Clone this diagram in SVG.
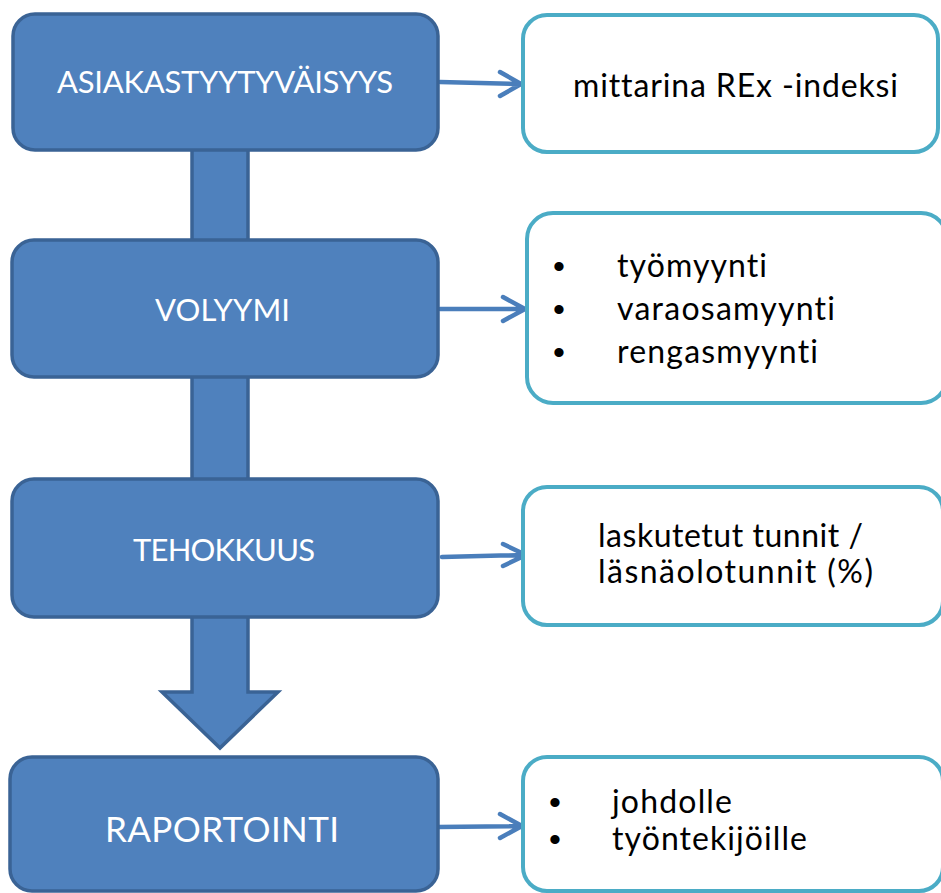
<svg xmlns="http://www.w3.org/2000/svg" width="941" height="893" viewBox="0 0 941 893">
<defs>
<style>
.main{fill:#4f81bd;stroke:#3a6395;stroke-width:3.5}
.side{fill:#ffffff;stroke:#4bacc6;stroke-width:4}
.wt{fill:#ffffff;font-family:Lato,"Liberation Sans",sans-serif;font-size:31px;font-variant-ligatures:none}
.bt{fill:#000000;font-family:Lato,"Liberation Sans",sans-serif;font-size:32px;font-variant-ligatures:none}
.bu{fill:#000000;font-family:"Liberation Sans",sans-serif;font-size:34px}
.arr{fill:none;stroke:#4a7ebb;stroke-width:4.5;stroke-linecap:round;stroke-linejoin:round}
</style>
</defs>
<rect width="941" height="893" fill="#ffffff"/>
<g id="connectors">
<rect class="main" x="192" y="148" width="56" height="94"/>
<rect class="main" x="192" y="376" width="56" height="104"/>
<polygon class="main" points="192,615 248,615 248,692 278,692 220,748 162,692 192,692"/>
<path class="arr" d="M440,82 L520,84 M500,72 L521,84 L500,96"/>
<path class="arr" d="M440,309 L524,309 M503,297 L525,309 L503,321"/>
<path class="arr" d="M442,557 L525,555 M503,544 L526,555 L503,566"/>
<path class="arr" d="M438,827 L521,826 M500,814 L522,826 L500,838"/>
</g>
<g id="n1">
<rect class="main" x="13" y="14" width="425" height="136" rx="22"/>
<text class="wt" x="57" y="93" textLength="336" lengthAdjust="spacing">ASIAKASTYYTYVÄISYYS</text>
</g>
<g id="n2">
<rect class="main" x="12" y="240" width="426" height="137" rx="22"/>
<text class="wt" x="155" y="321" textLength="135" lengthAdjust="spacing">VOLYYMI</text>
</g>
<g id="n3">
<rect class="main" x="12" y="479" width="426" height="138" rx="22"/>
<text class="wt" x="133" y="561" textLength="182" lengthAdjust="spacing">TEHOKKUUS</text>
</g>
<g id="n4">
<rect class="main" x="10" y="757" width="428" height="134" rx="22"/>
<text class="wt" x="105" y="842" style="font-size:35px" textLength="234" lengthAdjust="spacing">RAPORTOINTI</text>
</g>
<g id="r1">
<rect class="side" x="523" y="15" width="415" height="137" rx="24"/>
<text class="bt" x="573" y="97" textLength="325" lengthAdjust="spacing">mittarina REx -indeksi</text>
</g>
<g id="r2">
<rect class="side" x="527" y="213" width="420" height="190" rx="26"/>
<text class="bu" x="553" y="278">•</text><text class="bt" x="617" y="277" textLength="150" lengthAdjust="spacing">työmyynti</text>
<text class="bu" x="553" y="321">•</text><text class="bt" x="617" y="320" textLength="218" lengthAdjust="spacing">varaosamyynti</text>
<text class="bu" x="553" y="364">•</text><text class="bt" x="617" y="363" textLength="201" lengthAdjust="spacing">rengasmyynti</text>
</g>
<g id="r3">
<rect class="side" x="523" y="487" width="420" height="138" rx="24"/>
<text class="bt" x="598" y="547" textLength="265" lengthAdjust="spacing">laskutetut tunnit /</text>
<text class="bt" x="598" y="583" textLength="275" lengthAdjust="spacing">läsnäolotunnit (%)</text>
</g>
<g id="r4">
<rect class="side" x="523" y="757" width="420" height="134" rx="24"/>
<text class="bu" x="549" y="814">•</text><text class="bt" x="612" y="813" textLength="120" lengthAdjust="spacing">johdolle</text>
<text class="bu" x="549" y="851">•</text><text class="bt" x="612" y="850" textLength="195" lengthAdjust="spacing">työntekijöille</text>
</g>
</svg>
